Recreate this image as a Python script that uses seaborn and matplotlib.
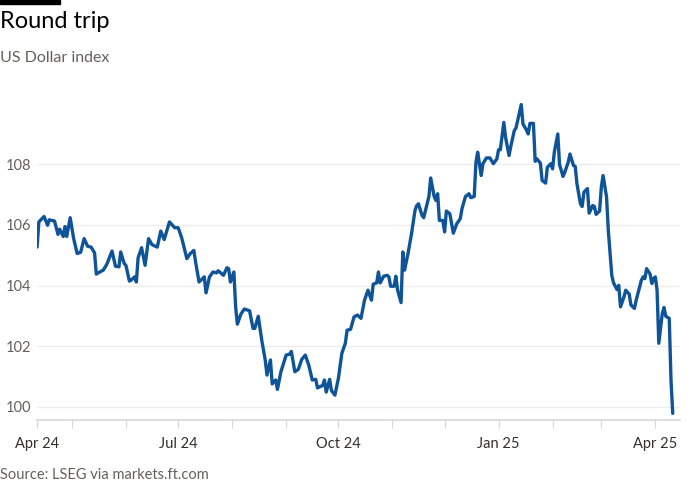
import matplotlib
matplotlib.use("Agg")
import matplotlib.pyplot as plt
import matplotlib.dates as mdates
import seaborn as sns
import pandas as pd

dates = [
    "2024-04-11", "2024-04-12", "2024-04-15", "2024-04-17", "2024-04-18", "2024-04-21",
    "2024-04-23", "2024-04-24", "2024-04-26", "2024-04-27", "2024-04-28", "2024-04-30",
    "2024-05-02", "2024-05-04", "2024-05-06", "2024-05-08", "2024-05-10", "2024-05-12",
    "2024-05-14", "2024-05-15", "2024-05-17", "2024-05-19", "2024-05-21", "2024-05-24",
    "2024-05-26", "2024-05-28", "2024-05-29", "2024-05-31", "2024-06-01", "2024-06-03",
    "2024-06-04", "2024-06-06", "2024-06-07", "2024-06-08", "2024-06-10", "2024-06-12",
    "2024-06-14", "2024-06-16", "2024-06-19", "2024-06-21", "2024-06-23", "2024-06-26",
    "2024-06-29", "2024-07-01", "2024-07-03", "2024-07-06", "2024-07-08", "2024-07-10",
    "2024-07-11", "2024-07-13", "2024-07-16", "2024-07-17", "2024-07-19", "2024-07-21",
    "2024-07-23", "2024-07-24", "2024-07-27", "2024-07-29", "2024-07-30", "2024-07-31",
    "2024-08-02", "2024-08-03", "2024-08-04", "2024-08-06", "2024-08-08", "2024-08-11",
    "2024-08-13", "2024-08-14", "2024-08-16", "2024-08-18", "2024-08-20", "2024-08-21",
    "2024-08-23", "2024-08-24", "2024-08-26", "2024-08-27", "2024-08-29", "2024-09-01",
    "2024-09-03", "2024-09-04", "2024-09-06", "2024-09-08", "2024-09-10", "2024-09-12",
    "2024-09-14", "2024-09-16", "2024-09-18", "2024-09-19", "2024-09-22", "2024-09-23",
    "2024-09-24", "2024-09-26", "2024-09-27", "2024-09-29", "2024-10-01", "2024-10-03",
    "2024-10-05", "2024-10-06", "2024-10-08", "2024-10-10", "2024-10-12", "2024-10-14",
    "2024-10-16", "2024-10-18", "2024-10-20", "2024-10-21", "2024-10-23", "2024-10-24",
    "2024-10-25", "2024-10-27", "2024-10-29", "2024-10-30", "2024-10-31", "2024-11-02",
    "2024-11-03", "2024-11-04", "2024-11-06", "2024-11-07", "2024-11-08", "2024-11-10",
    "2024-11-12", "2024-11-14", "2024-11-15", "2024-11-16", "2024-11-18", "2024-11-19",
    "2024-11-21", "2024-11-22", "2024-11-23", "2024-11-25", "2024-11-26", "2024-11-27",
    "2024-11-28", "2024-11-30", "2024-12-01", "2024-12-02", "2024-12-04", "2024-12-06",
    "2024-12-08", "2024-12-10", "2024-12-11", "2024-12-13", "2024-12-15", "2024-12-16",
    "2024-12-18", "2024-12-19", "2024-12-20", "2024-12-22", "2024-12-23", "2024-12-25",
    "2024-12-27", "2024-12-29", "2024-12-31", "2025-01-01", "2025-01-02", "2025-01-04",
    "2025-01-05", "2025-01-07", "2025-01-08", "2025-01-10", "2025-01-11", "2025-01-14",
    "2025-01-15", "2025-01-17", "2025-01-18", "2025-01-19", "2025-01-21", "2025-01-22",
    "2025-01-23", "2025-01-25", "2025-01-26", "2025-01-28", "2025-01-29", "2025-01-31",
    "2025-02-01", "2025-02-02", "2025-02-04", "2025-02-05", "2025-02-07", "2025-02-08",
    "2025-02-10", "2025-02-11", "2025-02-13", "2025-02-14", "2025-02-15", "2025-02-17",
    "2025-02-18", "2025-02-19", "2025-02-21", "2025-02-22", "2025-02-24", "2025-02-25",
    "2025-02-26", "2025-02-28", "2025-03-01", "2025-03-02", "2025-03-04", "2025-03-05",
    "2025-03-07", "2025-03-08", "2025-03-10", "2025-03-11", "2025-03-12", "2025-03-14",
    "2025-03-15", "2025-03-17", "2025-03-18", "2025-03-20", "2025-03-21", "2025-03-23",
    "2025-03-24", "2025-03-25", "2025-03-26", "2025-03-27", "2025-03-29", "2025-03-30",
    "2025-03-31", "2025-04-01", "2025-04-02", "2025-04-03", "2025-04-05", "2025-04-06",
    "2025-04-07", "2025-04-09", "2025-04-10", "2025-04-11",
]

dxy = [
    105.27, 106.10, 106.28, 105.99, 106.17, 106.13, 105.69, 105.86, 105.62, 105.95,
    105.62, 106.24, 105.55, 105.06, 105.10, 105.55, 105.30, 105.27, 105.08, 104.38,
    104.45, 104.51, 104.70, 105.14, 104.64, 104.62, 105.11, 104.73, 104.67, 104.15,
    104.18, 104.29, 104.12, 104.92, 105.25, 104.67, 105.55, 105.35, 105.27, 105.80,
    105.52, 106.10, 105.91, 105.91, 105.58, 104.89, 105.06, 105.16, 104.78, 104.12,
    104.29, 103.76, 104.29, 104.45, 104.42, 104.49, 104.34, 104.59, 104.56, 104.12,
    104.45, 103.30, 102.73, 103.06, 103.23, 103.17, 102.59, 102.59, 102.99, 102.20,
    101.55, 101.05, 101.55, 100.76, 100.89, 100.58, 101.16, 101.71, 101.74, 101.83,
    101.16, 101.24, 101.57, 101.71, 101.38, 100.89, 100.91, 100.63, 100.71, 100.89,
    100.49, 100.91, 100.54, 100.39, 100.94, 101.77, 102.10, 102.53, 102.56, 102.97,
    103.03, 102.92, 103.52, 103.85, 103.52, 104.05, 104.09, 104.45, 104.09, 104.31,
    104.34, 104.29, 103.98, 103.98, 104.31, 103.85, 103.44, 105.11, 104.51, 105.06,
    105.71, 106.48, 106.64, 106.70, 106.32, 106.24, 106.70, 106.94, 107.55, 106.94,
    106.81, 107.03, 106.15, 106.15, 105.77, 106.46, 106.37, 105.73, 106.04, 106.21,
    106.54, 106.94, 107.03, 106.90, 106.94, 108.07, 108.40, 107.63, 108.02, 108.21,
    108.21, 108.02, 108.18, 108.48, 108.48, 109.38, 108.89, 108.29, 108.59, 109.11,
    109.20, 109.97, 109.33, 109.13, 109.00, 109.35, 109.35, 108.10, 108.18, 108.04,
    107.47, 107.38, 107.90, 108.02, 107.85, 108.40, 109.00, 107.99, 107.60, 107.74,
    108.07, 108.34, 107.96, 107.93, 107.36, 106.70, 106.61, 107.08, 107.20, 106.39,
    106.64, 106.61, 106.35, 106.46, 107.25, 107.63, 106.92, 105.82, 104.34, 104.09,
    103.87, 104.01, 103.30, 103.63, 103.85, 103.72, 103.36, 103.25, 103.52, 103.96,
    104.18, 104.29, 104.23, 104.56, 104.38, 104.07, 104.23, 104.29, 103.85, 102.10,
    103.08, 103.28, 102.99, 102.92, 100.89, 99.79,
]

y_ticks = [100, 102, 104, 106, 108]
x_tick_dates = ["2024-04-11", "2024-07-01", "2024-10-01", "2025-01-01", "2025-04-01"]
x_tick_labels = ["Apr 24", "Jul 24", "Oct 24", "Jan 25", "Apr 25"]

df = pd.DataFrame({"date": pd.to_datetime(dates), "value": dxy})

plt.rcParams["font.family"] = "Lato"
sns.set_theme(style="white", rc={"font.family": "Lato"})

fig = plt.figure(figsize=(7, 5), dpi=100, facecolor="white")
ax = fig.add_axes([0.053, 0.16, 0.918, 0.66])
ax.set_facecolor("white")

sns.lineplot(data=df, x="date", y="value", ax=ax, color="#0f5499", linewidth=2.4)

ax.set_xlim(pd.Timestamp("2024-04-11"), pd.Timestamp("2025-04-15"))
ax.set_ylim(99.57, 110.45)
ax.set_yticks(y_ticks)
ax.set_yticklabels([str(t) for t in y_ticks])
ax.yaxis.grid(True, color="#ececec", linewidth=0.9)
ax.set_axisbelow(True)

ax.set_xticks(pd.to_datetime(x_tick_dates))
ax.set_xticklabels(x_tick_labels)
ax.xaxis.set_minor_locator(mdates.MonthLocator())
ax.tick_params(axis="x", which="both", length=6, color="#d9d9d9", width=0.9,
               labelsize=10.5, labelcolor="#33302e", pad=6, direction="out", bottom=True)
ax.tick_params(axis="y", length=0, labelsize=10.5, labelcolor="#66605c", pad=4)

for s in ["top", "right", "left"]:
    ax.spines[s].set_visible(False)
ax.spines["bottom"].set_color("#d9d9d9")
ax.set_xlabel("")
ax.set_ylabel("")

fig.add_artist(plt.Rectangle((0, 0.992), 0.086, 0.008, transform=fig.transFigure,
                             color="black"))
fig.text(0.0, 0.958, "Round trip", fontsize=17, color="#000000", va="center", ha="left")
fig.text(0.0, 0.885, "US Dollar index", fontsize=11.5, color="#66605c", va="center", ha="left")
fig.text(0.0, 0.05, "Source: LSEG via markets.ft.com", fontsize=10.5, color="#66605c",
         va="center", ha="left")

fig.savefig("out.png", dpi=100, facecolor="white")
